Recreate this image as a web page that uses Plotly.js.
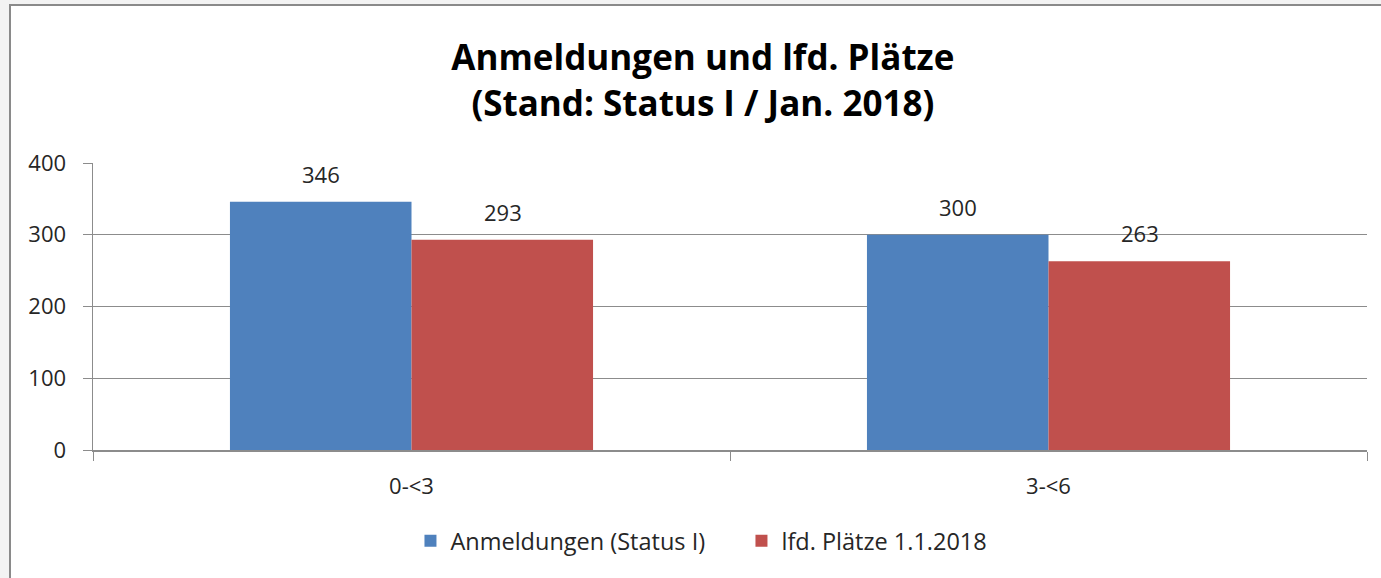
<!DOCTYPE html>
<html>
<head>
<meta charset="utf-8">
<script src="https://cdn.plot.ly/plotly-3.0.1.min.js"></script>
<style>
  html, body { margin: 0; padding: 0; background: #f3f3f3; width: 1381px; height: 578px; overflow: hidden; }
  #frame { position: absolute; left: 9px; top: 4px; width: 1380px; height: 580px; border-left: 2px solid #8a8a8a; border-top: 2px solid #8a8a8a; background: #ffffff; }
  #chart { position: absolute; left: 0; top: 0; width: 1370px; height: 572px; }
</style>
</head>
<body>
<div id="frame"><div id="chart"></div></div>
<script>
const categories = ["0-<3", "3-<6"];
const seriesNames = ["Anmeldungen (Status I)", "lfd. Plätze 1.1.2018"];
const anmeldungen = [346, 300];
const plaetze = [293, 263];
const yTicks = [0, 100, 200, 300, 400];

const font = "Open Sans, Liberation Sans, sans-serif";
const colors = ["#4f81bd", "#c0504d"];
const txt = "#262626";
const fs = 22;

const traces = [
  { type: "bar", name: seriesNames[0], x: categories, y: anmeldungen, marker: { color: colors[0] },
    textposition: "none", hoverinfo: "none" },
  { type: "bar", name: seriesNames[1], x: categories, y: plaetze, marker: { color: colors[1] },
    textposition: "none", hoverinfo: "none" }
];

const annotations = [];
[anmeldungen, plaetze].forEach((vals, s) => {
  vals.forEach((v, i) => {
    annotations.push({
      x: categories[i], y: v, xref: "x", yref: "y",
      text: String(v), showarrow: false,
      xshift: s === 0 ? -91 : 91, yanchor: "bottom", yshift: 11,
      font: { family: font, size: fs, color: txt }
    });
  });
});

const layout = {
  width: 1370, height: 572,
  margin: { l: 82, r: 14, t: 157, b: 128 },
  paper_bgcolor: "#ffffff", plot_bgcolor: "#ffffff",
  barmode: "group", bargap: 0.43, bargroupgap: 0,
  title: {
    text: "<b>Anmeldungen und lfd. Plätze<br>(Stand: Status I / Jan. 2018)</b>",
    font: { family: font, size: 35, color: "#000000" },
    x: 0.505, xanchor: "center", y: 0.888, yanchor: "top"
  },
  xaxis: {
    type: "category", showgrid: false, showline: true, linecolor: "#8c8c8c", linewidth: 1.5,
    ticks: "outside", tickson: "boundaries", ticklen: 9, tickcolor: "#8c8c8c", tickwidth: 1,
    tickfont: { family: font, size: fs, color: txt }, ticklabelstandoff: 16,
    fixedrange: true
  },
  yaxis: {
    range: [0, 400], tickvals: yTicks, ticktext: yTicks.map(String),
    showgrid: true, gridcolor: "#8c8c8c", gridwidth: 1,
    showline: true, linecolor: "#8c8c8c", linewidth: 1.5, zeroline: false,
    ticks: "outside", ticklen: 9, tickcolor: "#8c8c8c",
    tickfont: { family: font, size: fs, color: txt }, ticklabelstandoff: 12,
    fixedrange: true
  },
  showlegend: true,
  legend: {
    orientation: "h", x: 0.509, xanchor: "center", y: -0.317, yanchor: "middle",
    font: { family: font, size: 23.5, color: txt },
    itemwidth: 30, entrywidth: 286, tracegroupgap: 0
  },
  annotations: annotations
};

Plotly.newPlot("chart", traces, layout, { displayModeBar: false, staticPlot: true });
</script>
</body>
</html>
